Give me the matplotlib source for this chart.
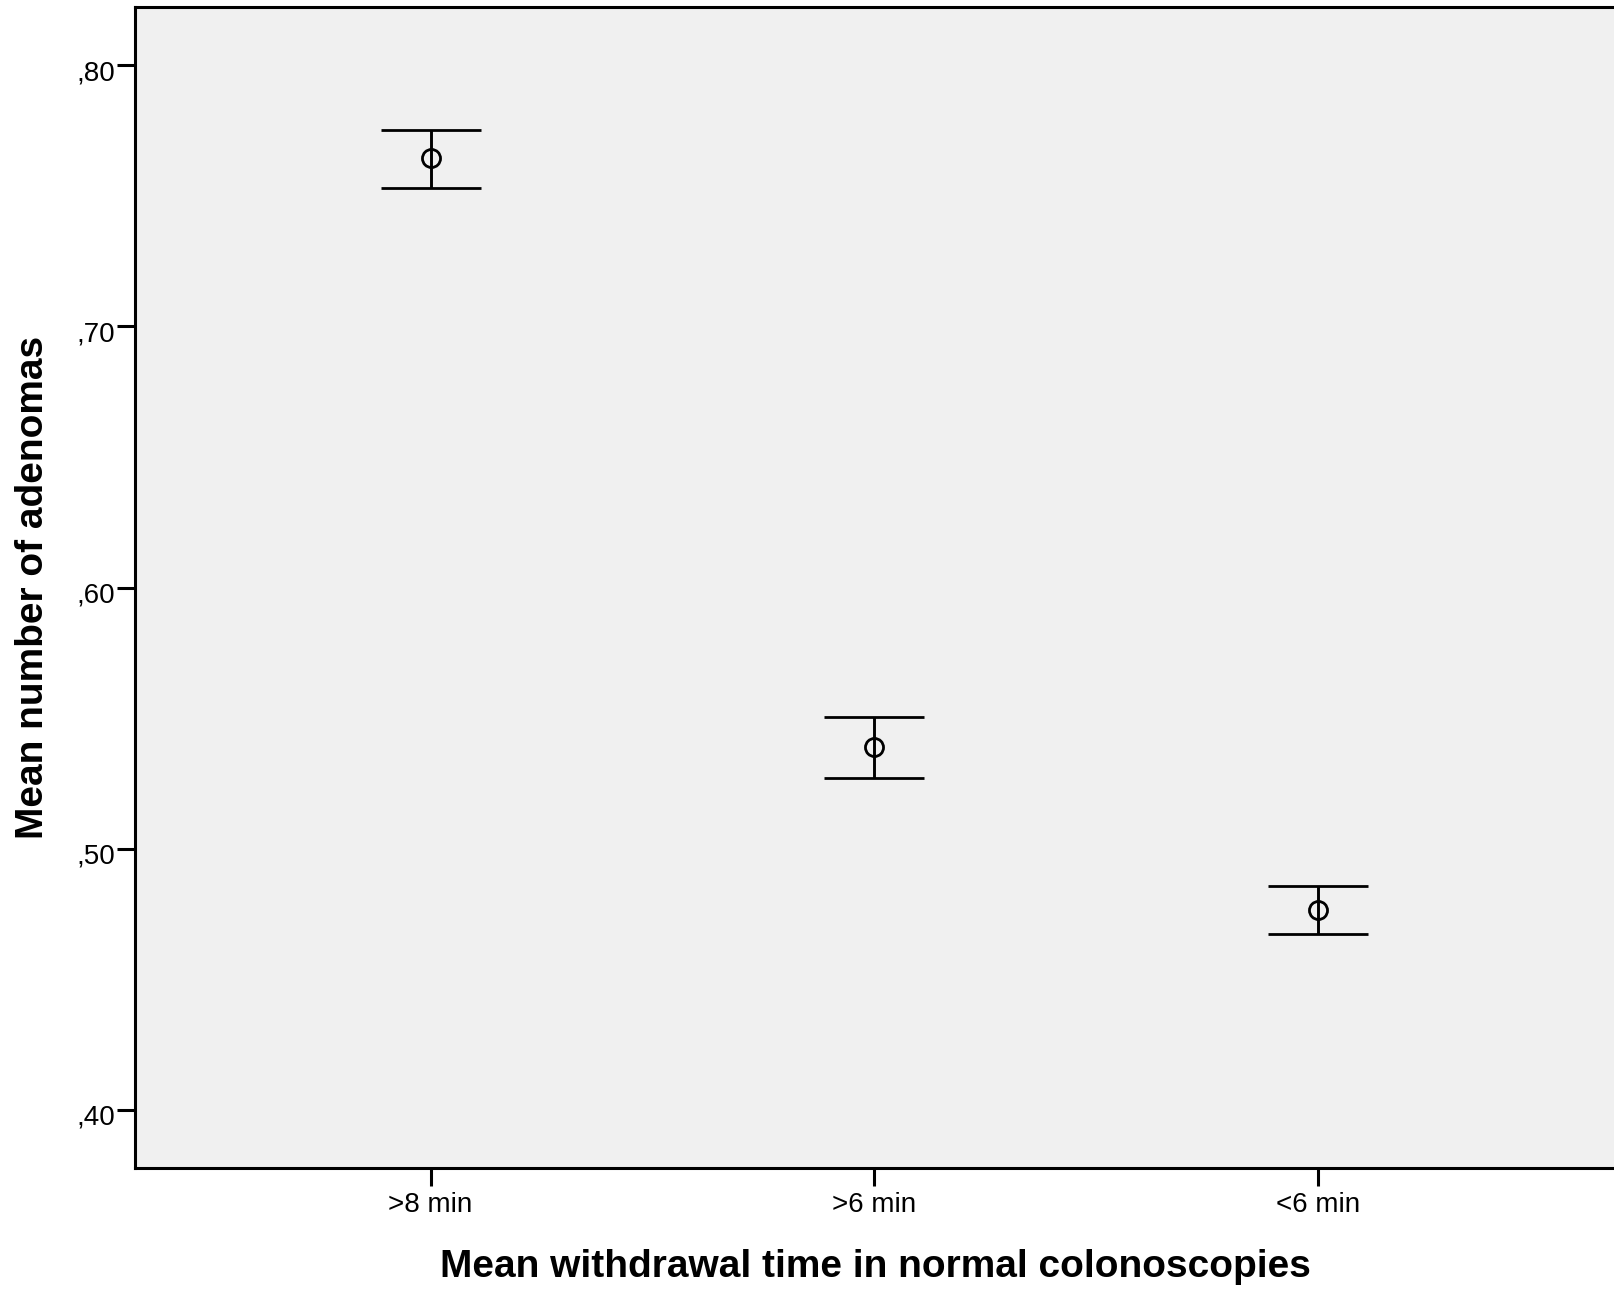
import matplotlib.pyplot as plt
from matplotlib.ticker import FuncFormatter
from matplotlib.transforms import ScaledTranslation

# Data
categories = ['>8 min', '>6 min', '<6 min']
means = [0.7645, 0.539, 0.4766]
upper = [0.7752, 0.5505, 0.4857]
lower = [0.7530, 0.5272, 0.4675]
y_ticks = [0.40, 0.50, 0.60, 0.70, 0.80]

BG = '#f0f0f0'
LW = 2.1
FONT = 'Liberation Sans'

fig = plt.figure(figsize=(16.14, 12.92), dpi=100)
ax = fig.add_axes([0.0835, 0.0960, 0.9165, 0.8984])
ax.set_facecolor(BG)

x = list(range(1, len(categories) + 1))
err_lo = [m - l for m, l in zip(means, lower)]
err_hi = [u - m for m, u in zip(means, upper)]
ax.errorbar(x, means, yerr=[err_lo, err_hi], fmt='o', color='black',
            mfc='none', mec='black', ms=13, mew=2.0,
            elinewidth=LW, capsize=36, capthick=LW)

ax.set_xlim(1 / 3, len(categories) + 2 / 3)
ax.set_ylim(0.3778, 0.8222)
ax.set_xticks(x)
ax.set_xticklabels(categories)
ax.set_yticks(y_ticks)
ax.yaxis.set_major_formatter(FuncFormatter(lambda v, p: f'{v:.2f}'.replace('0.', ',')))

for name, spine in ax.spines.items():
    spine.set_linewidth(2.2)
    spine.set_color('black')
ax.spines['right'].set_visible(False)

ax.tick_params(axis='both', direction='out', length=13, width=2.2, labelsize=20)
ax.tick_params(axis='y', pad=1)
ax.tick_params(axis='x', pad=4)
shift = ScaledTranslation(0, -5 / 100, fig.dpi_scale_trans)
for lab in ax.get_yticklabels():
    lab.set_family(FONT)
    lab.set_transform(lab.get_transform() + shift)
for lab in ax.get_xticklabels():
    lab.set_family(FONT)

ax.set_xlabel('Mean withdrawal time in normal colonoscopies', fontsize=28,
              fontweight='bold', family=FONT, va='center')
ax.set_ylabel('Mean number of adenomas', fontsize=28,
              fontweight='bold', family=FONT, va='center')
ax.xaxis.set_label_coords(0.501, -0.0853)
ax.yaxis.set_label_coords(-0.0687, 0.5)

fig.savefig('out.png', dpi=100, facecolor='white')
